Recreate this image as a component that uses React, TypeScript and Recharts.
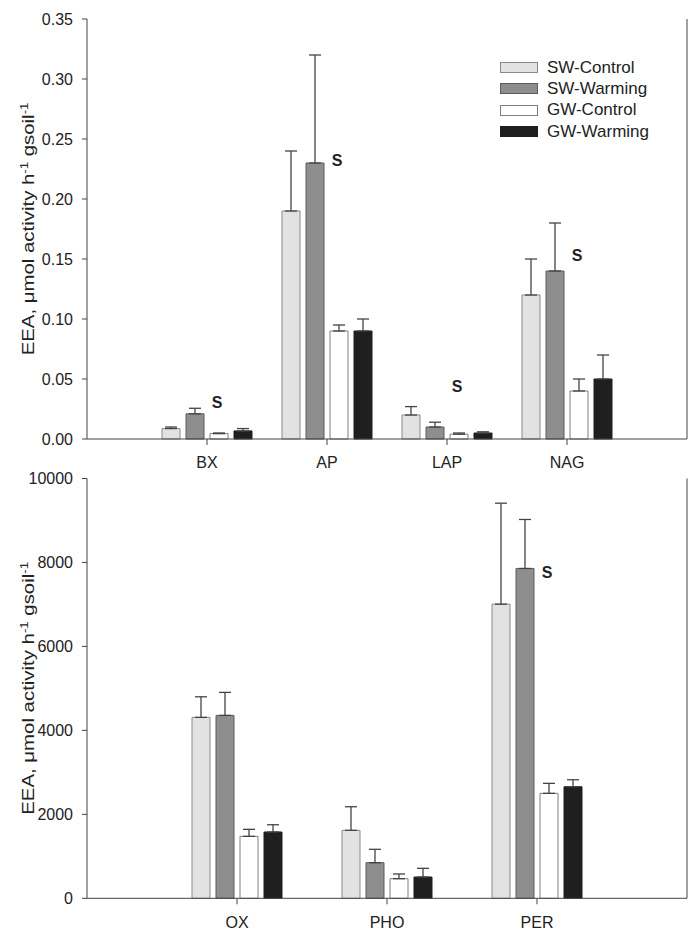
import { Bar, BarChart, ErrorBar, Label, Legend, ReferenceDot, XAxis, YAxis } from "recharts";

const FONT = "Arial, 'Liberation Sans', Helvetica, sans-serif";
const INK = "#222222";
const AXIS = "#444444";

const SERIES = [
  { key: "swc", name: "SW-Control", fill: "#e2e2e2", stroke: "#8a8a8a" },
  { key: "sww", name: "SW-Warming", fill: "#8e8e8e", stroke: "#5c5c5c" },
  { key: "gwc", name: "GW-Control", fill: "#ffffff", stroke: "#7e7e7e" },
  { key: "gww", name: "GW-Warming", fill: "#1f1f1f", stroke: "#1f1f1f" }
];

// top panel: hydrolytic enzymes
const topCategories = ["BX", "AP", "LAP", "NAG"];
const topSwControl = [0.0087, 0.19, 0.02, 0.12];
const topSwWarming = [0.021, 0.23, 0.01, 0.14];
const topGwControl = [0.0045, 0.09, 0.004, 0.04];
const topGwWarming = [0.0067, 0.09, 0.005, 0.05];
const topSwControlErr = [0.0013, 0.05, 0.007, 0.03];
const topSwWarmingErr = [0.0046, 0.09, 0.004, 0.04];
const topGwControlErr = [0.0005, 0.005, 0.001, 0.01];
const topGwWarmingErr = [0.002, 0.01, 0.001, 0.02];
const topTicks = [0, 0.05, 0.1, 0.15, 0.2, 0.25, 0.3, 0.35];
const topSig = [
  { cat: "BX", y: 0.0306 },
  { cat: "AP", y: 0.232 },
  { cat: "LAP", y: 0.044 },
  { cat: "NAG", y: 0.153 }
];

// bottom panel: oxidative enzymes
const bottomCategories = ["OX", "PHO", "PER"];
const bottomSwControl = [4310, 1619, 7007];
const bottomSwWarming = [4357, 848, 7857];
const bottomGwControl = [1476, 467, 2500];
const bottomGwWarming = [1579, 507, 2657];
const bottomSwControlErr = [490, 562, 2405];
const bottomSwWarmingErr = [548, 319, 1167];
const bottomGwControlErr = [167, 112, 238];
const bottomGwWarmingErr = [173, 207, 167];
const bottomTicks = [0, 2000, 4000, 6000, 8000, 10000];
const bottomSig = [{ cat: "PER", y: 7769 }];

type Row = Record<string, string | number>;

function buildRows(
  cats: string[],
  values: number[][],
  errors: number[][]
): Row[] {
  return cats.map((name, i) => {
    const row: Row = { name };
    SERIES.forEach((s, j) => {
      row[s.key] = values[j][i];
      row[s.key + "Err"] = errors[j][i];
    });
    return row;
  });
}

const topRows = buildRows(
  topCategories,
  [topSwControl, topSwWarming, topGwControl, topGwWarming],
  [topSwControlErr, topSwWarmingErr, topGwControlErr, topGwWarmingErr]
);
const bottomRows = buildRows(
  bottomCategories,
  [bottomSwControl, bottomSwWarming, bottomGwControl, bottomGwWarming],
  [bottomSwControlErr, bottomSwWarmingErr, bottomGwControlErr, bottomGwWarmingErr]
);

// axis title is drawn a bit stretched along its length, like the original
function YTitle(props: any) {
  const vb = props.viewBox || {};
  const x = (vb.x ?? 0) + 34;
  const y = (vb.y ?? 0) + (vb.height ?? 0) / 2;
  return (
    <text
      transform={`translate(${x},${y}) rotate(-90) scale(1.2,1)`}
      textAnchor="middle"
      fontFamily={FONT}
      fontSize={17}
      fill={INK}
    >
      EEA, μmol activity h
      <tspan dy={-6} fontSize={11}>-1</tspan>
      <tspan dy={6}> gsoil</tspan>
      <tspan dy={-6} fontSize={11}>-1</tspan>
    </text>
  );
}

function SigMark(props: any) {
  return (
    <text
      x={props.cx + 10}
      y={props.cy}
      dy="0.36em"
      textAnchor="middle"
      fontFamily={FONT}
      fontSize={16}
      fontWeight="bold"
      fill={INK}
    >
      S
    </text>
  );
}

function LegendBox() {
  return (
    <div style={{ fontFamily: FONT, fontSize: 17, color: INK }}>
      {SERIES.map((s) => (
        <div key={s.key} style={{ display: "flex", alignItems: "center", height: 21.3 }}>
          <span
            style={{
              display: "inline-block",
              width: 38,
              height: 11,
              boxSizing: "border-box",
              background: s.fill,
              border: `1px solid ${s.stroke}`,
              marginRight: 9
            }}
          />
          {s.name}
        </div>
      ))}
    </div>
  );
}

type PanelProps = {
  rows: Row[];
  ticks: number[];
  sig: { cat: string; y: number }[];
  height: number;
  marginTop: number;
  marginBottom: number;
  pad: number;
  format?: (v: number) => string;
  legend?: boolean;
};

function Panel({ rows, ticks, sig, height, marginTop, marginBottom, pad, format, legend }: PanelProps) {
  const tickStyle = { fontSize: 16, fill: INK, fontFamily: FONT };
  return (
    <BarChart
      width={691}
      height={height}
      data={rows}
      margin={{ top: marginTop, right: 3, bottom: marginBottom, left: 0 }}
      barSize={18}
      barGap={6}
    >
      <XAxis
        dataKey="name"
        padding={{ left: pad, right: pad }}
        height={31}
        tick={tickStyle}
        tickSize={6}
        tickMargin={12}
        stroke={AXIS}
        axisLine={{ stroke: AXIS }}
        tickLine={{ stroke: AXIS }}
      />
      <XAxis
        xAxisId="top"
        orientation="top"
        dataKey="name"
        padding={{ left: pad, right: pad }}
        height={0}
        tick={false}
        tickLine={false}
        axisLine={{ stroke: AXIS }}
      />
      <YAxis
        width={87}
        domain={[ticks[0], ticks[ticks.length - 1]]}
        ticks={ticks}
        tickFormatter={format}
        tick={tickStyle}
        tickSize={5}
        tickMargin={9}
        interval={0}
        axisLine={{ stroke: AXIS }}
        tickLine={{ stroke: AXIS }}
      >
        <Label content={YTitle} />
      </YAxis>
      <YAxis
        yAxisId="r"
        orientation="right"
        width={1}
        tick={false}
        tickLine={false}
        axisLine={{ stroke: AXIS }}
      />
      {SERIES.map((s) => (
        <Bar
          key={s.key}
          dataKey={s.key}
          name={s.name}
          fill={s.fill}
          stroke={s.stroke}
          strokeWidth={1}
          isAnimationActive={false}
        >
          <ErrorBar
            dataKey={(d: any) => [0, d[s.key + "Err"]]}
            direction="y"
            width={6}
            stroke={AXIS}
            strokeWidth={1.3}
            isAnimationActive={false}
          />
        </Bar>
      ))}
      {sig.map((m) => (
        <ReferenceDot key={m.cat} x={m.cat} y={m.y} r={0} shape={SigMark} />
      ))}
      {legend && (
        <Legend
          layout="horizontal"
          verticalAlign="middle"
          align="center"
          content={<LegendBox />}
          wrapperStyle={{ position: "absolute", left: 500, top: 57, width: "auto", height: "auto" }}
        />
      )}
    </BarChart>
  );
}

export default function App() {
  return (
    <div
      style={{
        position: "absolute",
        left: 0,
        top: 0,
        width: 691,
        height: 942,
        background: "#ffffff"
      }}
    >
      <Panel
        rows={topRows}
        ticks={topTicks}
        sig={topSig}
        height={470}
        marginTop={19}
        marginBottom={0}
        pad={60}
        format={(v) => v.toFixed(2)}
        legend
      />
      <Panel
        rows={bottomRows}
        ticks={bottomTicks}
        sig={bottomSig}
        height={472}
        marginTop={8.5}
        marginBottom={12.7}
        pad={75}
      />
    </div>
  );
}
